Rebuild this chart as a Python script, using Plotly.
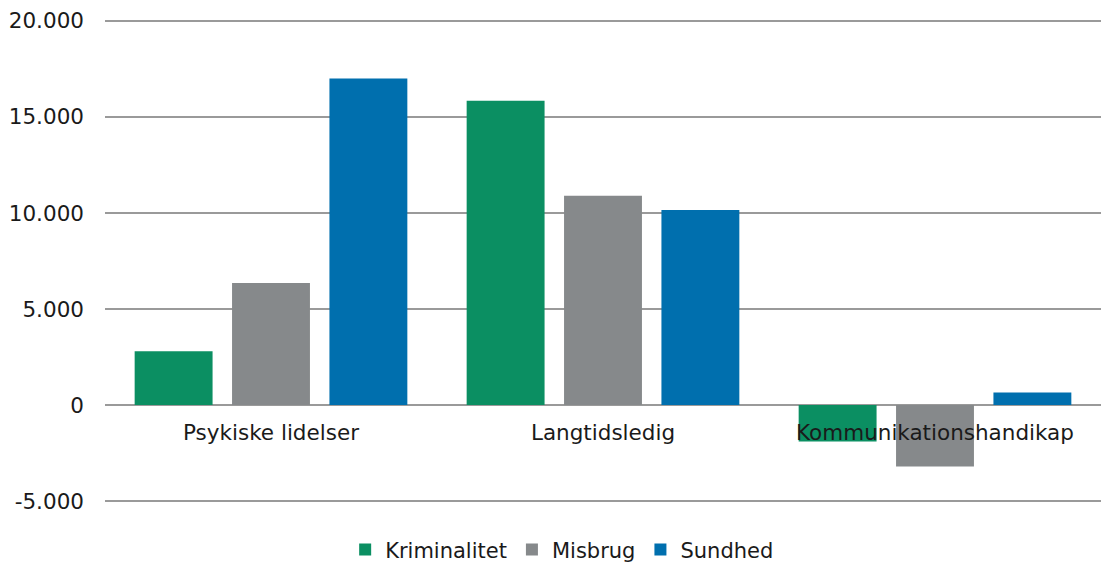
import plotly.graph_objects as go

categories = ["Psykiske lidelser", "Langtidsledig", "Kommunikationshandikap"]
kriminalitet = [2800, 15850, -1900]
misbrug = [6350, 10900, -3200]
sundhed = [17000, 10150, 650]
tick_vals = [-5000, 0, 5000, 10000, 15000, 20000]
tick_text = ["-5.000", "0", "5.000", "10.000", "15.000", "20.000"]

FONT = "DejaVu Sans"
FS = 21.5
fig = go.Figure()
for name, vals, col in [("Kriminalitet", kriminalitet, "#0b8f62"),
                        ("Misbrug", misbrug, "#86898b"),
                        ("Sundhed", sundhed, "#006fae")]:
    fig.add_trace(go.Bar(x=categories, y=vals, name=name, marker_color=col,
                         marker_line_width=0))

fig.update_layout(
    width=1102, height=571,
    margin=dict(l=105, r=1, t=19, b=60),
    plot_bgcolor="white", paper_bgcolor="white",
    barmode="group", bargap=0.12, bargroupgap=0.2,
    font=dict(family=FONT, size=FS, color="#1a1a1a"),
    showlegend=True,
    legend=dict(orientation="h", x=0.459, xanchor="center", y=-0.097, yanchor="middle",
                font=dict(family=FONT, size=21, color="#1a1a1a"),
                itemwidth=30, traceorder="normal"),
    xaxis=dict(anchor="free", position=0.2, showline=False, ticks="",
               showgrid=False, ticklabelstandoff=11, automargin=False,
               tickfont=dict(family=FONT, size=FS, color="#1a1a1a")),
    yaxis=dict(range=[-5100, 20100], tickvals=tick_vals, ticktext=tick_text,
               showgrid=True, gridcolor="#9a9a9a", gridwidth=1.5,
               zeroline=True, zerolinecolor="#9a9a9a", zerolinewidth=1.5,
               showline=False, ticks="", ticklabelstandoff=20, automargin=False,
               tickfont=dict(family=FONT, size=FS, color="#1a1a1a")),
)
post = (
    "document.documentElement.style.overflow='hidden';"
    "document.body.style.margin='0';"
    "document.body.style.height='571px';"
    "document.body.style.overflow='hidden';"
    "var g=document.getElementsByClassName('plotly-graph-div')[0];"
    "if(g&&g.parentElement){g.parentElement.style.height='571px';g.parentElement.style.overflow='hidden';}"
)
fig.write_html("out.html", config={"displayModeBar": False}, post_script=post)
